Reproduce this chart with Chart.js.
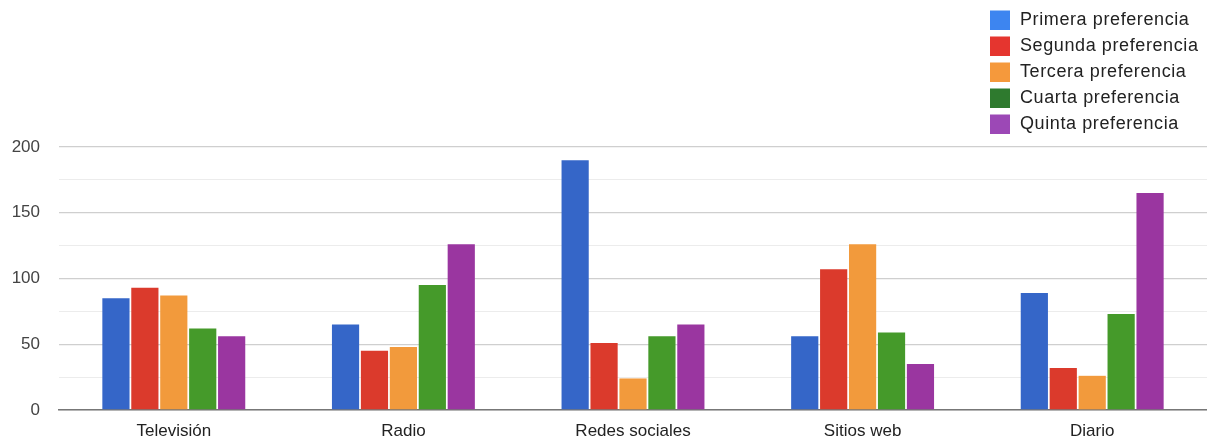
<!DOCTYPE html>
<html>
<head>
<meta charset="utf-8">
<script src="https://cdn.jsdelivr.net/npm/chart.js@4/dist/chart.umd.min.js"></script>
<style>
  html, body { margin: 0; padding: 0; background: #fff; }
  #wrap { width: 1207px; height: 443px; }
</style>
</head>
<body>
<div id="wrap"><canvas id="c" width="1207" height="443"></canvas></div>
<script>
// Media categories and how many people ranked each one in each position
const categories = ['Televisión', 'Radio', 'Redes sociales', 'Sitios web', 'Diario'];
const seriesNames = ['Primera preferencia', 'Segunda preferencia', 'Tercera preferencia', 'Cuarta preferencia', 'Quinta preferencia'];
const primera = [85, 65, 190, 56, 89];
const segunda = [93, 45, 51, 107, 32];
const tercera = [87, 48, 24, 126, 26];
const cuarta  = [62, 95, 56, 59, 73];
const quinta  = [56, 126, 65, 35, 165];
const yTicks = [0, 50, 100, 150, 200];

const barColors = ['#3566c8', '#db3a2c', '#f29a3c', '#459a2a', '#9a36a0'];
const legendColors = ['#3d85f0', '#e5352f', '#f5993c', '#2e7a2e', '#9c48b6'];
const seriesValues = [primera, segunda, tercera, cuarta, quinta];

const FONT = '"Liberation Sans", Arial, Helvetica, sans-serif';

// Vertical legend in the top-right corner
const sideLegend = {
  id: 'sideLegend',
  afterDraw(chart) {
    const ctx = chart.ctx;
    ctx.save();
    ctx.font = '18px ' + FONT;
    if ('letterSpacing' in ctx) ctx.letterSpacing = '0.6px';
    ctx.textBaseline = 'middle';
    ctx.textAlign = 'left';
    chart.data.datasets.forEach((ds, i) => {
      const y = 10.5 + i * 26;
      ctx.fillStyle = legendColors[i];
      ctx.fillRect(990, y, 20, 19.5);
      ctx.fillStyle = '#222';
      ctx.fillText(ds.label, 1020, y + 10);
    });
    ctx.restore();
  }
};

new Chart(document.getElementById('c'), {
  type: 'bar',
  data: {
    labels: categories,
    datasets: seriesNames.map((name, i) => ({
      label: name,
      data: seriesValues[i],
      backgroundColor: barColors[i],
      borderWidth: 0,
      categoryPercentage: 0.63,
      barPercentage: 0.94
    }))
  },
  options: {
    responsive: false,
    animation: false,
    layout: { padding: { top: 147, right: 0, bottom: 0, left: 0 } },
    plugins: {
      legend: { display: false },
      tooltip: { enabled: false }
    },
    scales: {
      x: {
        grid: { display: false, drawTicks: false },
        border: { display: true, color: '#777', width: 1.5 },
        ticks: { color: '#222', font: { family: FONT, size: 17 }, padding: 11 },
        afterFit(s) { s.height = 33; }
      },
      y: {
        min: 0,
        max: 200,
        border: { display: false },
        grid: {
          drawTicks: false,
          color: (c) => (c.tick && c.tick.value % 50 === 0) ? '#cfcfcf' : '#ececec',
          lineWidth: (c) => (c.tick && c.tick.value % 50 === 0) ? 1.3 : 1
        },
        ticks: {
          stepSize: 25,
          color: '#444',
          font: { family: FONT, size: 17 },
          padding: 19,
          callback: (v) => yTicks.includes(v) ? String(v) : ''
        },
        afterFit(s) { s.width = 59; }
      }
    }
  },
  plugins: [sideLegend]
});
</script>
</body>
</html>
